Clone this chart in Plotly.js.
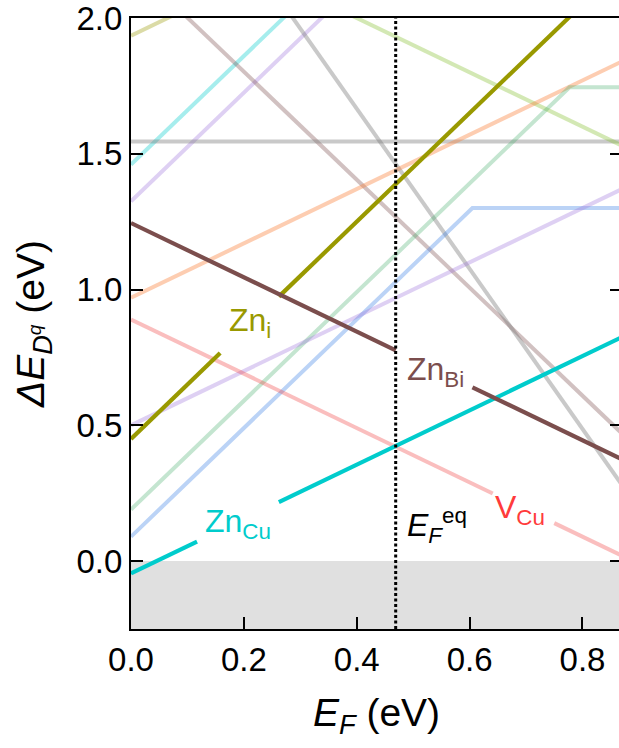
<!DOCTYPE html>
<html>
<head>
<meta charset="utf-8">
<script src="https://cdn.plot.ly/plotly-3.0.1.min.js"></script>
<style>
html, body { margin: 0; padding: 0; overflow: hidden; background: #fff; }
#chart { width: 623px; height: 748px; }
</style>
</head>
<body>
<div id="chart"></div>
<script>
// ---- data ----
const xRange = [0, 0.87];
const yRange = [-0.25, 2.0];
const xTicks = [0, 0.2, 0.4, 0.6, 0.8];
const xTickText = ['0.0', '0.2', '0.4', '0.6', '0.8'];
const yTicks = [0, 0.5, 1.0, 1.5, 2.0];
const yTickText = ['0.0', '0.5', '1.0', '1.5', '2.0'];
const EFeq = 0.469;

// faint (unlabelled) defect lines
const lightOliveX = [0, 0.3],          lightOliveY = [1.935, 2.235];
const lightCyanX = [0, 0.4],           lightCyanY = [1.46, 2.26];
const lightPurpleAX = [0, 0.5],        lightPurpleAY = [1.325, 2.325];
const taupeX = [0, 0.87],              taupeY = [2.2, 0.47];
const grayFlatX = [0, 0.87],           grayFlatY = [1.545, 1.545];
const graySteepX = [0.28, 0.87],       graySteepY = [2.02, 0.28];
const yellowGreenX = [0.35, 0.87],     yellowGreenY = [2.05, 1.53];
const peachX = [0, 0.87],              peachY = [0.97, 1.84];
const mintX = [0, 0.777, 0.87],        mintY = [0.19, 1.745, 1.745];
const lightBlueX = [0, 0.605, 0.87],   lightBlueY = [0.09, 1.30, 1.30];
const lavenderX = [0, 0.87],           lavenderY = [0.50, 1.37];
const vCuX = [0, 0.641, null, 0.75, 0.87], vCuY = [0.89, 0.249, null, 0.14, 0.02];

// highlighted defects
const znCuX = [0, 0.117, null, 0.262, 0.87], znCuY = [-0.045, 0.072, null, 0.217, 0.825];
const znIX = [0, 0.158, null, 0.262, 0.80],  znIY = [0.45, 0.766, null, 0.974, 2.05];
const znBiX = [0, 0.469, null, 0.605, 0.87], znBiY = [1.245, 0.776, null, 0.64, 0.375];

const FONT = 'Arial, "Liberation Sans", Helvetica, sans-serif';

function line(x, y, color, w) {
  return { x: x, y: y, type: 'scatter', mode: 'lines', connectgaps: false,
           line: { color: color, width: w || 4 }, hoverinfo: 'skip', showlegend: false };
}

const traces = [
  line(lightOliveX, lightOliveY, 'rgba(153,153,0,0.35)'),
  line(lightCyanX, lightCyanY, 'rgba(0,204,204,0.35)'),
  line(lightPurpleAX, lightPurpleAY, 'rgba(160,120,220,0.35)'),
  line(taupeX, taupeY, 'rgba(122,78,76,0.35)'),
  line(grayFlatX, grayFlatY, 'rgba(120,120,120,0.4)'),
  line(graySteepX, graySteepY, 'rgba(120,120,120,0.4)'),
  line(yellowGreenX, yellowGreenY, 'rgba(130,190,40,0.35)'),
  line(peachX, peachY, 'rgba(250,130,60,0.4)'),
  line(mintX, mintY, 'rgba(60,170,100,0.3)'),
  line(lightBlueX, lightBlueY, 'rgba(60,130,230,0.35)'),
  line(lavenderX, lavenderY, 'rgba(160,120,220,0.35)'),
  line(vCuX, vCuY, 'rgba(240,70,70,0.35)'),
  line(znCuX, znCuY, '#00cccc', 4.2),
  line(znIX, znIY, '#999900', 4.2),
  line(znBiX, znBiY, '#7b4e4d', 4.2),
  { x: [EFeq, EFeq], y: yRange, type: 'scatter', mode: 'lines', hoverinfo: 'skip', showlegend: false,
    line: { color: '#000', width: 3, dash: '3px,2.5px' } }
];

const ann = (x, y, text, color) => ({ x: x, y: y, xref: 'x', yref: 'y', text: text, showarrow: false,
  font: { family: FONT, size: 32, color: color }, xanchor: 'center', yanchor: 'middle' });

const layout = {
  width: 623, height: 748,
  margin: { l: 131, r: 1, t: 18, b: 119 },
  paper_bgcolor: '#fff', plot_bgcolor: '#fff',
  font: { family: FONT, color: '#000' },
  showlegend: false,
  xaxis: {
    range: xRange, tickvals: xTicks, ticktext: xTickText,
    ticks: 'inside', ticklen: 12, tickwidth: 2, tickcolor: '#000',
    showline: true, linewidth: 2, linecolor: '#000', mirror: true,
    showgrid: false, zeroline: false, ticklabeloverflow: 'allow',
    tickfont: { family: FONT, size: 33 },
    title: { text: '<i>E<sub>F</sub></i> (eV)', font: { family: FONT, size: 39 }, standoff: 22 }
  },
  yaxis: {
    range: yRange, tickvals: yTicks, ticktext: yTickText,
    ticks: 'inside', ticklen: 12, tickwidth: 2, tickcolor: '#000',
    showline: true, linewidth: 2, linecolor: '#000', mirror: 'ticks',
    showgrid: false, zeroline: false, ticklabeloverflow: 'allow',
    tickfont: { family: FONT, size: 33 },
    title: { text: '<i>ΔE<sub>D<sup>q</sup></sub></i> (eV)', font: { family: FONT, size: 39 }, standoff: 20 }
  },
  shapes: [
    { type: 'rect', xref: 'paper', yref: 'y', x0: 0, x1: 1, y0: yRange[0], y1: 0,
      fillcolor: '#e0e0e0', line: { width: 0 }, layer: 'below' }
  ],
  annotations: [
    ann(0.21, 0.88, 'Zn<sub>i</sub>', '#999900'),
    ann(0.54, 0.70, 'Zn<sub>Bi</sub>', '#7b4e4d'),
    ann(0.19, 0.14, 'Zn<sub>Cu</sub>', '#00cccc'),
    ann(0.69, 0.19, 'V<sub>Cu</sub>', '#ff3b3b'),
    ann(0.543, 0.13, '<i>E<sub>F</sub></i><sup>eq</sup>', '#000')
  ]
};

Plotly.newPlot('chart', traces, layout, { displayModeBar: false, staticPlot: true });
</script>
</body>
</html>
